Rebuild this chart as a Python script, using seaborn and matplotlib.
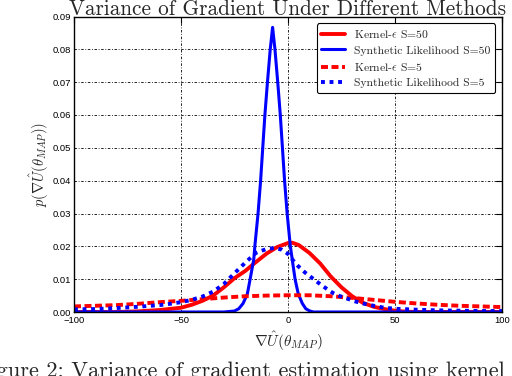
import numpy as np
import pandas as pd
import matplotlib
matplotlib.use("Agg")
import matplotlib.pyplot as plt
import seaborn as sns

# values
x_sl50 = [-100, -30, -25, -23, -21, -19, -17.7, -16, -15.5, -14, -12.8, -11.8, -10.8, -9.6, -8.3, -7.2,
          -6.1, -4.8, -3.6, -2.6, -1.6, -0.4, 1.1, 3.3, 4.8, 6.7, 8.3, 10.2, 12, 100]
p_sl50 = [0.0, 0.0, 0.0003, 0.0010, 0.0026, 0.0055, 0.0100, 0.0160, 0.0200, 0.0300, 0.0400, 0.0500,
          0.0600, 0.0700, 0.0800, 0.0867, 0.0800, 0.0700, 0.0600, 0.0500, 0.0400, 0.0300, 0.0200,
          0.0100, 0.0055, 0.0026, 0.0010, 0.0003, 0.0, 0.0]

x_k50 = [-100, -80, -70, -60, -50, -45, -40, -35, -30, -25, -20, -15, -10, -5, 0, 2, 5, 10, 15, 20,
         25, 30, 35, 40, 45, 50, 55, 60, 100]
p_k50 = [0.0, 0.0, 0.0002, 0.0006, 0.0013, 0.0022, 0.0034, 0.0050, 0.0075, 0.0103, 0.0125, 0.0152,
         0.0178, 0.0198, 0.0210, 0.0211, 0.0204, 0.0180, 0.0148, 0.0108, 0.0075, 0.0048, 0.0028,
         0.0016, 0.0009, 0.0004, 0.0001, 0.0, 0.0]

x_sl5 = [-100, -90, -80, -70, -60, -55, -50, -45, -40, -35, -30, -25, -20, -15, -10, -6, -3, 0, 3, 5,
         8, 10, 12, 15, 18, 21, 24, 28, 31, 35, 40, 45, 50, 60, 70, 80, 90, 100]
p_sl5 = [0.0008, 0.0009, 0.0012, 0.0016, 0.0021, 0.0025, 0.0030, 0.0037, 0.0047, 0.0062, 0.0085,
         0.0118, 0.0150, 0.0180, 0.0192, 0.0195, 0.0190, 0.0177, 0.0152, 0.0138, 0.0120, 0.0110,
         0.0100, 0.0085, 0.0071, 0.0058, 0.0049, 0.0040, 0.0033, 0.0026, 0.0019, 0.0013, 0.0010,
         0.0007, 0.0005, 0.0004, 0.0003, 0.0003]

x_k5 = [-100, -90, -80, -70, -60, -50, -40, -30, -20, -10, 0, 10, 20, 30, 40, 50, 60, 70, 80, 90, 100]
p_k5 = [0.0017, 0.0019, 0.0021, 0.0025, 0.0030, 0.0034, 0.0039, 0.0044, 0.0048, 0.0050, 0.0051,
        0.0051, 0.0048, 0.0043, 0.0037, 0.0031, 0.0026, 0.0022, 0.0019, 0.0017, 0.0015]

yticks = [0.00, 0.01, 0.02, 0.03, 0.04, 0.05, 0.06, 0.07, 0.08, 0.09]
xticks = [-100, -50, 0, 50, 100]

sns.set_style("white")
plt.rcParams['mathtext.fontset'] = 'cm'
plt.rcParams['font.family'] = ['Liberation Sans', 'DejaVu Sans']
plt.rcParams['xtick.direction'] = 'in'
plt.rcParams['ytick.direction'] = 'in'

fig = plt.figure(figsize=(5.12, 3.76), dpi=100)
ax = fig.add_axes([74/512, 1 - 312/376, 428/512, 295.5/376])

sns.lineplot(x=x_k50, y=p_k50, color="#ff0000", lw=2.8, label=r"Kernel-$\epsilon$ S=50", ax=ax)
sns.lineplot(x=x_sl50, y=p_sl50, color="#0000ff", lw=2.2, label="Synthetic Likelihood S=50", ax=ax)
sns.lineplot(x=x_k5, y=p_k5, color="#ff0000", lw=2.8, linestyle=(0, (1.8, 0.9)),
             label=r"Kernel-$\epsilon$ S=5", ax=ax)
sns.lineplot(x=x_sl5, y=p_sl5, color="#0000ff", lw=2.8, linestyle=(0, (1, 1.2)),
             label="Synthetic Likelihood S=5", ax=ax)

ax.set_xlim(-100, 100)
ax.set_ylim(0, 0.09)
ax.set_xticks(xticks)
ax.set_yticks(yticks)
ax.set_yticklabels(["%.2f" % t for t in yticks])
ax.tick_params(labelsize=6.8, length=4, width=0.8, top=True, right=True, pad=2, colors="black")
ax.tick_params(axis="x", pad=3)
ax.grid(True, color="black", linestyle=(0, (3, 2, 1, 2)), lw=0.6)
for s in ax.spines.values():
    s.set_color("black")
    s.set_linewidth(1.0)

ax.set_title("Variance of Gradient Under Different Methods", family="cmr10", fontsize=15.3, pad=1)
ax.set_xlabel(r"$\nabla\hat{U}(\theta_{MAP})$", fontsize=11, labelpad=3)
ax.set_ylabel(r"$p(\nabla\hat{U}(\theta_{MAP}))$", fontsize=10.5, labelpad=1)

leg = ax.legend(loc="upper right", prop={"family": "cmr10", "size": 8.4}, fancybox=True,
                framealpha=1, edgecolor="black", labelspacing=0.45, handlelength=2.0,
                borderaxespad=0.6)
leg.get_frame().set_linewidth(0.8)

fig.text(0.985, 1 - 361/376, "Figure 2: Variance of gradient estimation using kernel",
         family="cmr10", fontsize=16.1, ha="right", va="top")

fig.savefig("out.png", dpi=100)
